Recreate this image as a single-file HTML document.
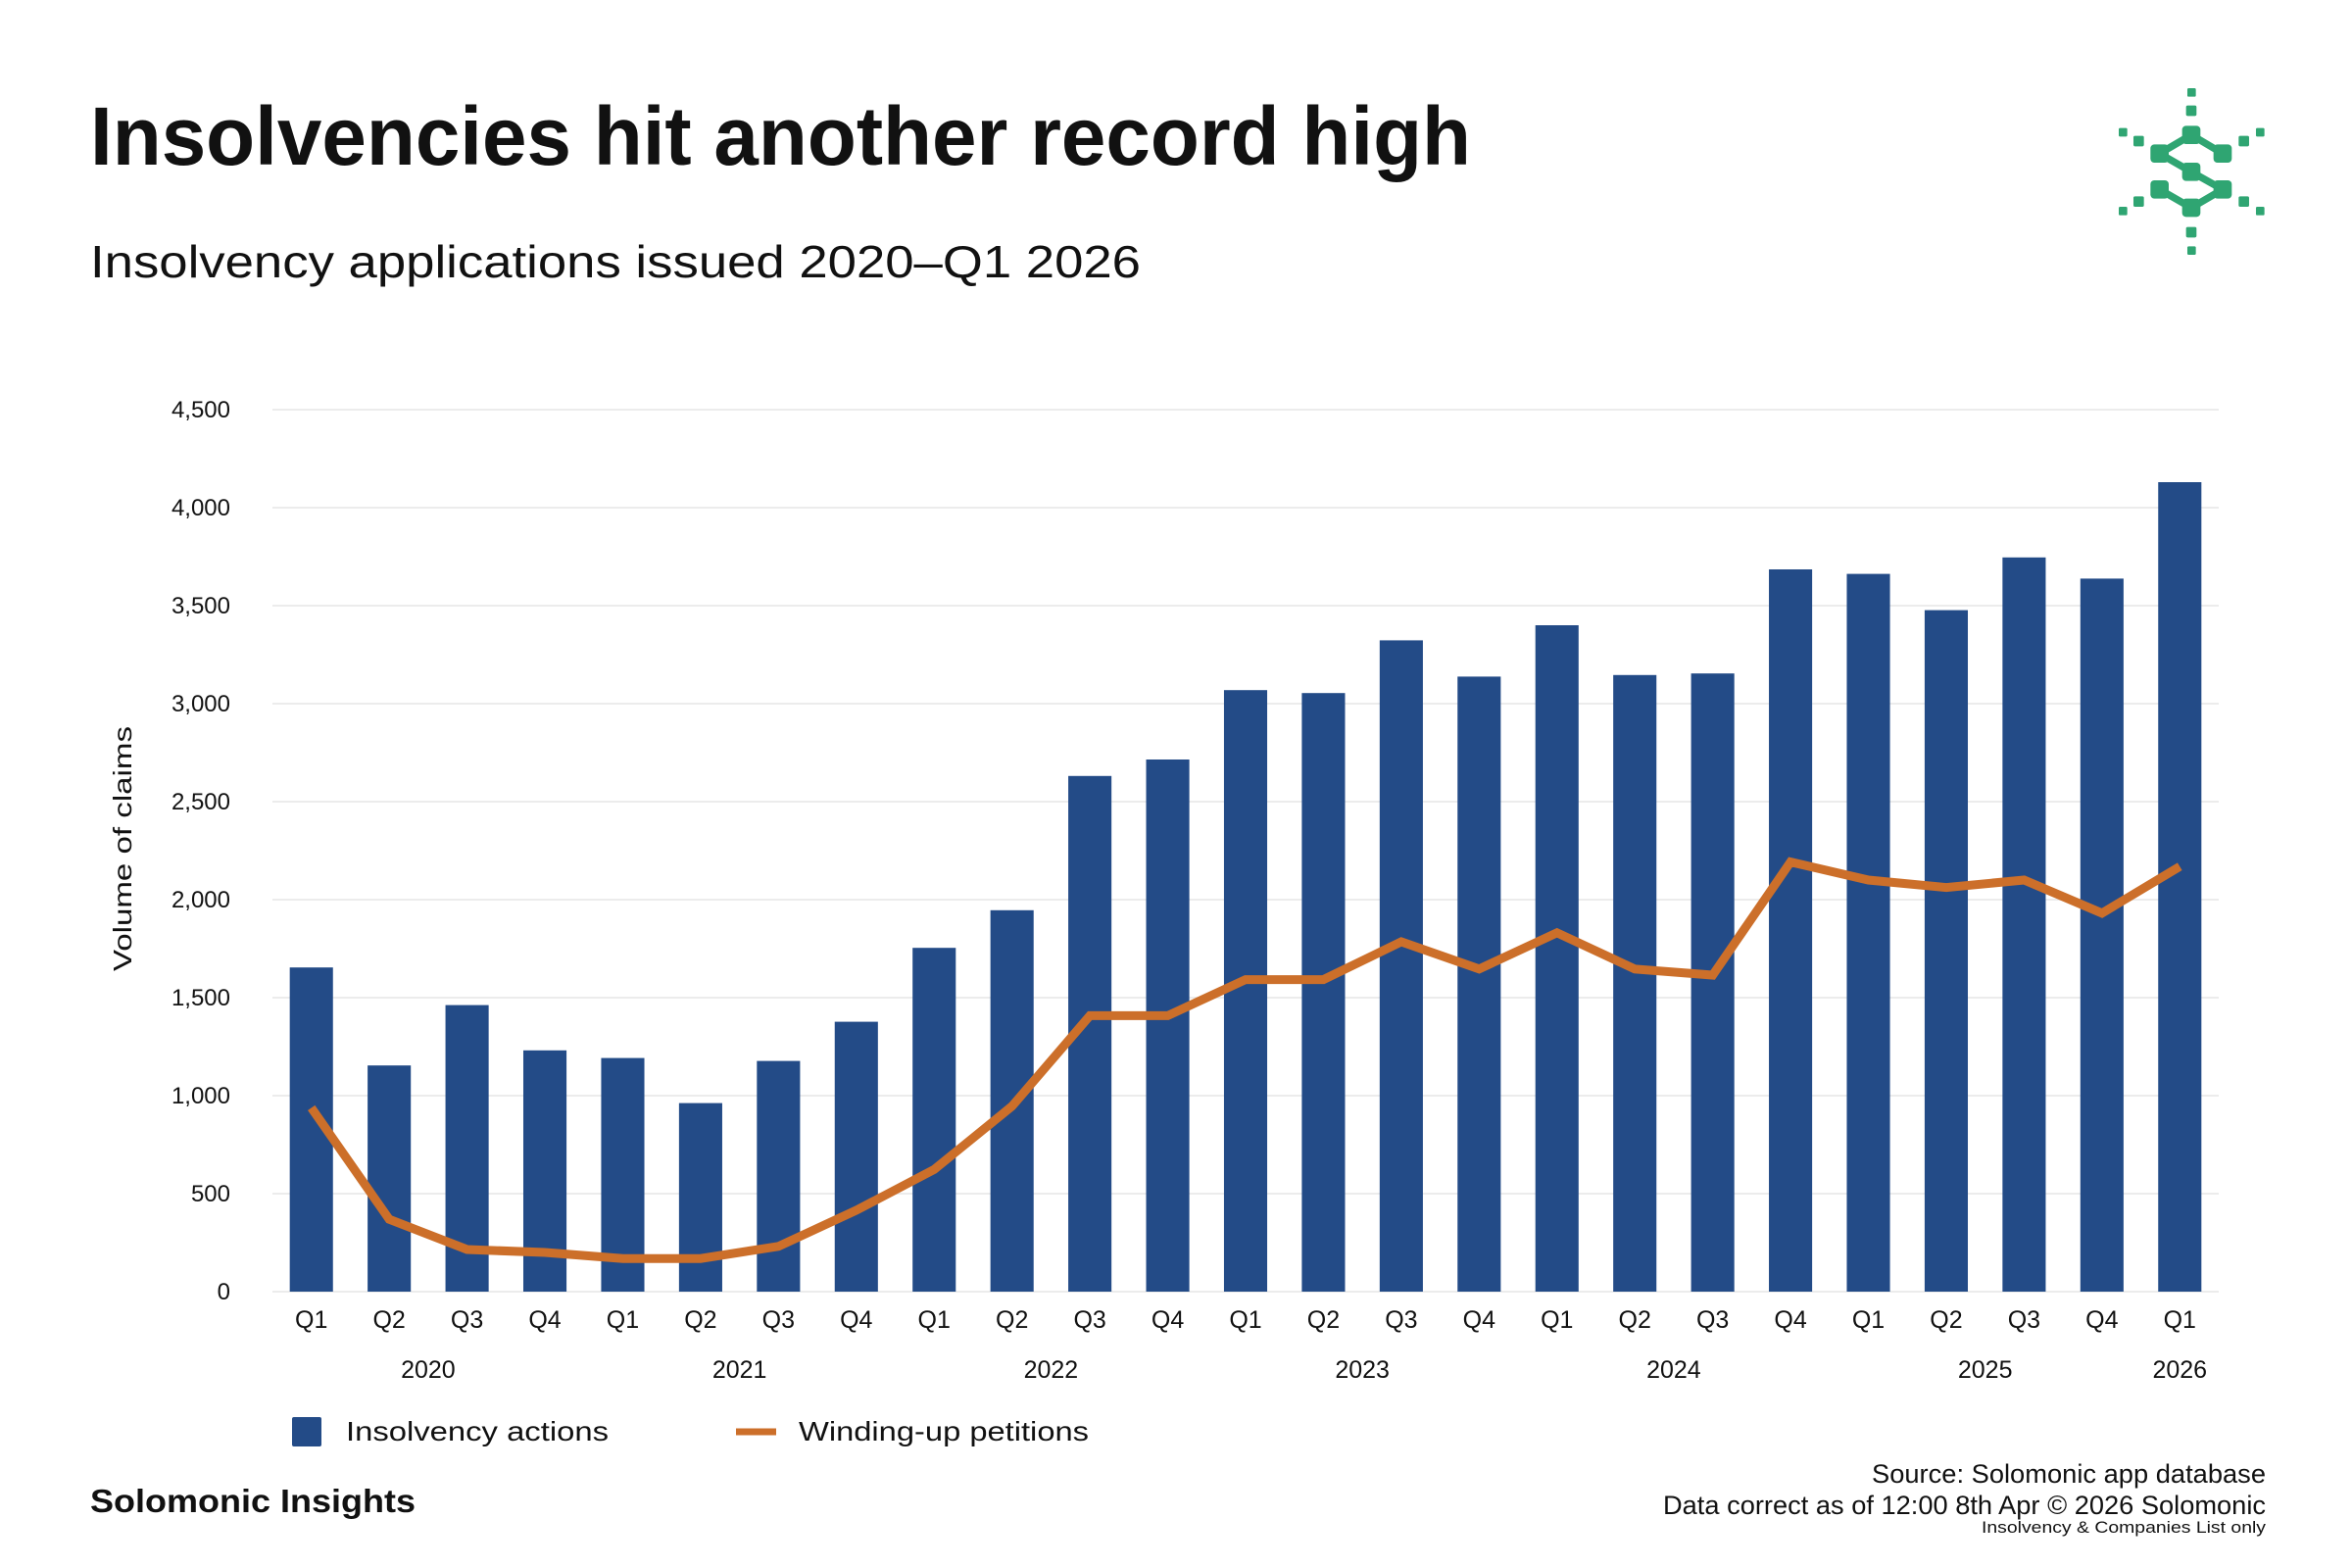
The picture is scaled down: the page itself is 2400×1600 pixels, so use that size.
<!DOCTYPE html>
<html><head><meta charset="utf-8">
<style>
html,body{margin:0;padding:0;background:#fff;}
svg{display:block;}
text{font-family:"Liberation Sans",sans-serif;fill:#111;}
</style></head>
<body>
<svg id="chart" width="2400" height="1600" viewBox="0 0 2400 1600" xmlns="http://www.w3.org/2000/svg">
<rect width="2400" height="1600" fill="#fff"/>
<text x="92" y="168" font-size="84" font-weight="bold" textLength="1409" lengthAdjust="spacingAndGlyphs">Insolvencies hit another record high</text>
<text x="92" y="283" font-size="46" textLength="1072" lengthAdjust="spacingAndGlyphs">Insolvency applications issued 2020–Q1 2026</text>
<g transform="translate(2150,60) scale(0.3333)" fill="#2fa572">
<rect x="246" y="90" width="26" height="26" rx="4"/><rect x="246" y="574" width="26" height="26" rx="4"/>
<rect x="36" y="212" width="26" height="26" rx="4"/><rect x="456" y="212" width="26" height="26" rx="4"/>
<rect x="36" y="453" width="26" height="26" rx="4"/><rect x="456" y="453" width="26" height="26" rx="4"/>
<rect x="242" y="143" width="32" height="32" rx="5"/><rect x="242" y="515" width="32" height="32" rx="5"/>
<rect x="81" y="236" width="32" height="32" rx="5"/><rect x="403" y="236" width="32" height="32" rx="5"/>
<rect x="81" y="421" width="32" height="32" rx="5"/><rect x="403" y="421" width="32" height="32" rx="5"/>
<polyline points="161,290 258,233 354,290" fill="none" stroke="#2fa572" stroke-width="22"/>
<polyline points="161,290 258,346 354,400" fill="none" stroke="#2fa572" stroke-width="22"/>
<polyline points="161,400 258,456 354,400" fill="none" stroke="#2fa572" stroke-width="22"/>
<rect x="230" y="205" width="56" height="56" rx="12"/><rect x="133" y="262" width="56" height="56" rx="12"/>
<rect x="326" y="262" width="56" height="56" rx="12"/><rect x="230" y="318" width="56" height="56" rx="12"/>
<rect x="133" y="372" width="56" height="56" rx="12"/><rect x="326" y="372" width="56" height="56" rx="12"/>
<rect x="230" y="428" width="56" height="56" rx="12"/>
</g>
<g id="grid"></g><g id="bars"></g><g id="line"></g><g id="axes"></g>
<text transform="translate(134,866) rotate(-90)" text-anchor="middle" font-size="26" textLength="250" lengthAdjust="spacingAndGlyphs">Volume of claims</text>
<rect x="298" y="1446" width="30" height="30" rx="2" fill="#234b87"/>
<text x="353" y="1470" font-size="28" textLength="268" lengthAdjust="spacingAndGlyphs">Insolvency actions</text>
<line x1="751" y1="1461" x2="792" y2="1461" stroke="#cc6f2a" stroke-width="7"/>
<text x="815" y="1470" font-size="28" textLength="296" lengthAdjust="spacingAndGlyphs">Winding-up petitions</text>
<text x="92" y="1543" font-size="33" font-weight="bold" textLength="332" lengthAdjust="spacingAndGlyphs">Solomonic Insights</text>
<text x="2312" y="1513" font-size="27" text-anchor="end" textLength="402" lengthAdjust="spacingAndGlyphs">Source: Solomonic app database</text>
<text x="2312" y="1545" font-size="27" text-anchor="end" textLength="615" lengthAdjust="spacingAndGlyphs">Data correct as of 12:00 8th Apr © 2026 Solomonic</text>
<text x="2312" y="1564" font-size="17" text-anchor="end" textLength="290" lengthAdjust="spacingAndGlyphs">Insolvency &amp; Companies List only</text>
</svg>
<script>
const quarters = ["Q1","Q2","Q3","Q4","Q1","Q2","Q3","Q4","Q1","Q2","Q3","Q4","Q1","Q2","Q3","Q4","Q1","Q2","Q3","Q4","Q1","Q2","Q3","Q4","Q1"];
const years = ["2020","2021","2022","2023","2024","2025","2026"];
const insolvencyActions = [1654,1154,1462,1231,1192,962,1177,1377,1754,1946,2631,2715,3069,3054,3323,3138,3400,3146,3154,3685,3662,3477,3746,3638,4130];
const windingUpPetitions = [938,369,215,200,169,169,231,415,623,946,1408,1408,1592,1592,1785,1646,1831,1646,1615,2192,2100,2062,2100,1931,2169];
const yTicks = [0,500,1000,1500,2000,2500,3000,3500,4000,4500];
const yTickLabels = ["0","500","1,000","1,500","2,000","2,500","3,000","3,500","4,000","4,500"];

const NS="http://www.w3.org/2000/svg";
const plotL=278, plotR=2264, y0=1318, pxPerUnit=0.2;
const step=(plotR-plotL)/quarters.length;
const x=i=>plotL+step*(i+0.5);
const y=v=>y0-v*pxPerUnit;
function mk(tag,parent,attrs){const e=document.createElementNS(NS,tag);for(const k in attrs)e.setAttribute(k,attrs[k]);parent.appendChild(e);return e;}
const grid=document.getElementById('grid'),bars=document.getElementById('bars'),line=document.getElementById('line'),axes=document.getElementById('axes');
yTicks.forEach((t,i)=>{
  const g=mk('line',grid,{x1:plotL,x2:plotR,y1:y(t),y2:y(t),stroke:'#ececec','stroke-width':2});
  
  
  const l=mk('text',axes,{x:235,y:y(t)+8,'text-anchor':'end','font-size':24});
  l.textContent=yTickLabels[i];
  
  
});
const bw=step*0.555;
insolvencyActions.forEach((v,i)=>{
  const r=mk('rect',bars,{x:x(i)-bw/2,y:y(v),width:bw,height:y(0)-y(v),fill:'#234b87'});
  
  
  const q=mk('text',axes,{x:x(i),y:1355,'text-anchor':'middle','font-size':25});
  q.textContent=quarters[i];
  
  
});
years.forEach((yr,k)=>{
  const first=k*4, last=Math.min(first+3,quarters.length-1);
  const t=mk('text',axes,{x:(x(first)+x(last))/2,y:1406,'text-anchor':'middle','font-size':25});
  t.textContent=yr;
  
  
});
const pl=mk('polyline',line,{points:windingUpPetitions.map((v,i)=>x(i)+','+y(v)).join(' '),fill:'none',stroke:'#cc6f2a','stroke-width':9,'stroke-linejoin':'miter'});


</script>
</body></html>
